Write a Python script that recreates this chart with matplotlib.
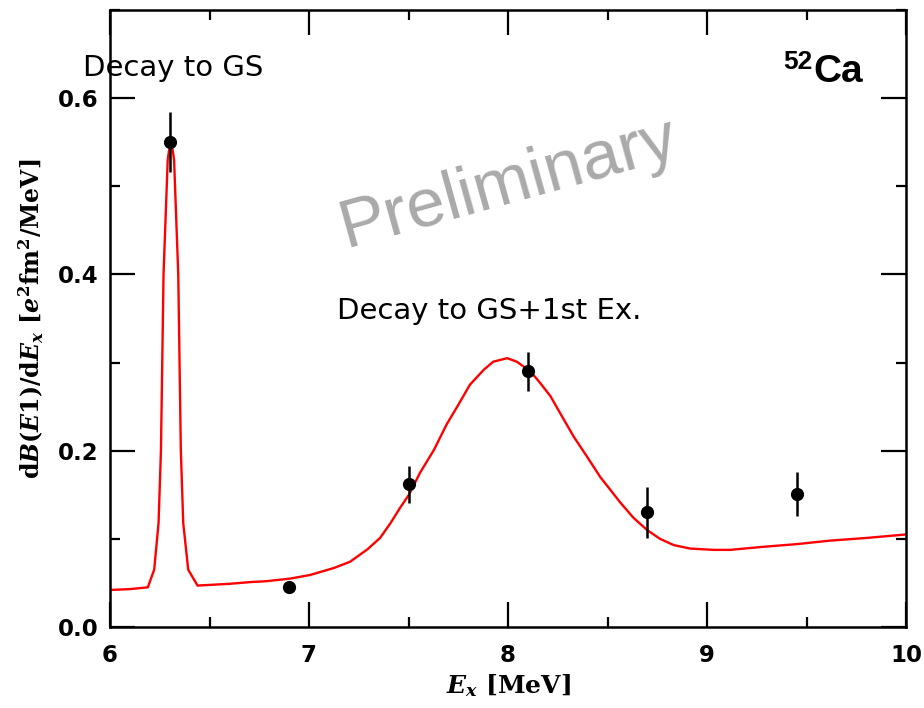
import matplotlib
matplotlib.use("Agg")
import matplotlib.pyplot as plt
from matplotlib.ticker import MultipleLocator

plt.rcParams['mathtext.fontset'] = 'custom'
plt.rcParams['mathtext.it'] = 'DejaVu Serif:italic:bold'
plt.rcParams['mathtext.rm'] = 'DejaVu Serif:bold'
plt.rcParams['mathtext.bf'] = 'DejaVu Serif:bold'

# Data points (E_x, dB/dE, lower err, upper err)
data_x = [6.30, 6.90, 7.50, 8.10, 8.70, 9.45]
data_y = [0.550, 0.045, 0.162, 0.290, 0.131, 0.151]
err_lo = [0.034, 0.0, 0.021, 0.022, 0.030, 0.025]
err_hi = [0.034, 0.0, 0.021, 0.022, 0.028, 0.025]

# Red fit curve
curve_x = [6.00, 6.10, 6.19, 6.222, 6.244, 6.256, 6.269, 6.290, 6.306, 6.322,
           6.343, 6.356, 6.368, 6.393, 6.44, 6.60, 6.708, 6.787, 6.908, 7.005,
           7.126, 7.206, 7.293, 7.357, 7.41, 7.457, 7.502, 7.558, 7.628, 7.692,
           7.745, 7.809, 7.879, 7.926, 7.996, 8.044, 8.113, 8.161, 8.213, 8.261,
           8.33, 8.395, 8.464, 8.513, 8.565, 8.63, 8.699, 8.764, 8.832, 8.915,
           9.033, 9.116, 9.284, 9.45, 9.618, 9.80, 10.0]
curve_y = [0.042, 0.043, 0.045, 0.065, 0.118, 0.200, 0.400, 0.530, 0.555, 0.530,
           0.400, 0.200, 0.118, 0.065, 0.047, 0.049, 0.051, 0.052, 0.055, 0.059,
           0.067, 0.074, 0.088, 0.101, 0.118, 0.135, 0.150, 0.175, 0.201, 0.230,
           0.250, 0.275, 0.292, 0.301, 0.305, 0.301, 0.290, 0.277, 0.262, 0.243,
           0.216, 0.194, 0.170, 0.156, 0.141, 0.124, 0.110, 0.100, 0.093, 0.089,
           0.0875, 0.0875, 0.091, 0.094, 0.098, 0.101, 0.105]

fig = plt.figure(figsize=(9.24, 7.08), dpi=100)
ax = fig.add_axes([110/924, 81/708, 796/924, 617/708])

ax.plot(curve_x, curve_y, color='#ff0000', lw=1.7, zorder=2)
ax.errorbar(data_x, data_y, yerr=[err_lo, err_hi], fmt='o', color='black',
            ms=8.5, elinewidth=1.8, capsize=0, zorder=3)

ax.set_xlim(6, 10)
ax.set_ylim(0, 0.7)
ax.xaxis.set_major_locator(MultipleLocator(1))
ax.xaxis.set_minor_locator(MultipleLocator(0.5))
ax.yaxis.set_major_locator(MultipleLocator(0.2))
ax.yaxis.set_minor_locator(MultipleLocator(0.1))
ax.yaxis.set_major_formatter(plt.FuncFormatter(lambda v, p: f"{v:.1f}"))
ax.tick_params(which='both', direction='in', top=True, right=True, width=1.6)
ax.tick_params(which='major', length=18)
ax.tick_params(which='minor', length=7)
ax.tick_params(axis='x', pad=12, labelsize=16.5)
ax.tick_params(axis='y', pad=8, labelsize=16.5)
for lab in ax.get_xticklabels() + ax.get_yticklabels():
    lab.set_fontfamily('DejaVu Sans')
    lab.set_fontweight('bold')
for s in ax.spines.values():
    s.set_linewidth(1.8)

ax.set_xlabel(r'$E_x$ [MeV]', fontsize=18, fontfamily='DejaVu Serif',
              fontweight='bold', labelpad=4)
ax.set_ylabel(r'd$B$($E\mathit{1}$)/d$E_x$ [$e^2$fm$^2$/MeV]', fontsize=17,
              fontfamily='DejaVu Serif', fontweight='bold', labelpad=9)

ax.text(5.864, 0.6247, 'Decay to GS', fontsize=21, family='DejaVu Sans',
        ha='left', va='baseline', clip_on=False)
ax.text(7.139, 0.349, 'Decay to GS+1st Ex.', fontsize=21, family='DejaVu Sans',
        ha='left', va='baseline')
ca = ax.text(9.784, 0.6185, 'Ca', fontsize=28, family='Liberation Sans',
             fontweight='bold', ha='right', va='baseline')
ax.annotate('52', xy=(0, 1), xycoords=ca, xytext=(-1, 3),
            textcoords='offset points', ha='right', va='top',
            fontsize=19, family='Liberation Sans', fontweight='bold')
ax.text(8.0, 0.503, 'Preliminary', fontsize=50, family='Liberation Sans',
        color='#aaaaaa', rotation=15.5, ha='center', va='center')

fig.savefig('out.png', dpi=100)
